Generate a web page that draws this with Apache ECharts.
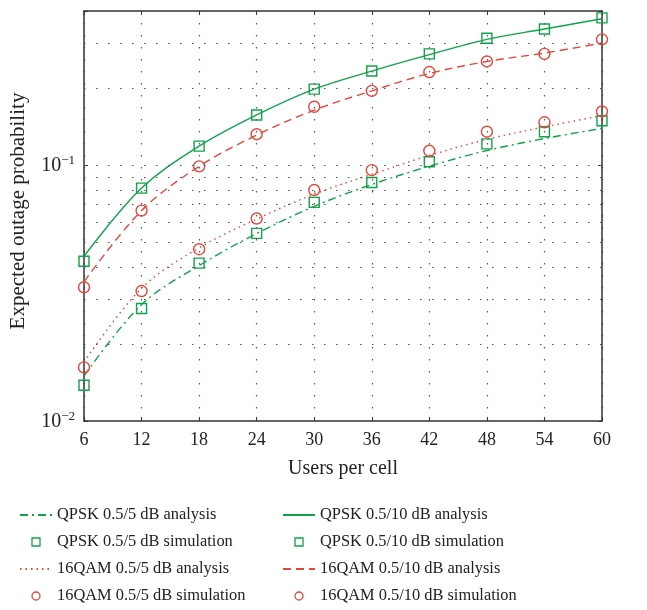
<!DOCTYPE html>
<html>
<head>
<meta charset="utf-8">
<script src="https://cdn.jsdelivr.net/npm/echarts@6/dist/echarts.min.js"></script>
<style>html,body{margin:0;padding:0;background:#fff}#c{width:647px;height:610px}</style>
</head>
<body>
<div id="c"></div>
<script>
var users = [6, 12, 18, 24, 30, 36, 42, 48, 54, 60];
var qpsk5Analysis = [0.0150, 0.0285, 0.0405, 0.0540, 0.0690, 0.0840, 0.0990, 0.1140, 0.1270, 0.1390];
var qpsk5Sim = [0.0138, 0.0275, 0.0414, 0.0541, 0.0715, 0.0855, 0.1030, 0.1210, 0.1350, 0.1490];
var qpsk10Analysis = [0.0440, 0.0813, 0.1186, 0.1570, 0.1980, 0.2330, 0.2700, 0.3100, 0.3400, 0.3730];
var qpsk10Sim = [0.0421, 0.0813, 0.1186, 0.1570, 0.1980, 0.2330, 0.2720, 0.3130, 0.3400, 0.3760];
var qam5Analysis = [0.0170, 0.0330, 0.0475, 0.0615, 0.0770, 0.0920, 0.1090, 0.1260, 0.1410, 0.1560];
var qam5Sim = [0.0162, 0.0322, 0.0469, 0.0618, 0.0799, 0.0956, 0.1137, 0.1350, 0.1470, 0.1620];
var qam10Analysis = [0.0350, 0.0664, 0.0988, 0.1310, 0.1640, 0.1950, 0.2280, 0.2540, 0.2740, 0.3000];
var qam10Sim = [0.0333, 0.0664, 0.0988, 0.1320, 0.1690, 0.1950, 0.2310, 0.2540, 0.2720, 0.3100];
var yGridValues = [0.02, 0.03, 0.04, 0.05, 0.06, 0.07, 0.08, 0.09, 0.1, 0.2, 0.3];
var names = ['QPSK 0.5/5 dB analysis', 'QPSK 0.5/5 dB simulation', '16QAM 0.5/5 dB analysis', '16QAM 0.5/5 dB simulation',
             'QPSK 0.5/10 dB analysis', 'QPSK 0.5/10 dB simulation', '16QAM 0.5/10 dB analysis', '16QAM 0.5/10 dB simulation'];

var GREEN = '#12a24b', RED = '#e5453a';
var FONT = 'Liberation Serif';
function pairs(arr) { return users.map(function (u, i) { return [u, arr[i]]; }); }

function lineSeries(name, arr, color, type) {
  return { name: name, type: 'line', data: pairs(arr), smooth: 0.35, symbol: 'none', showSymbol: false,
    lineStyle: { color: color, width: 1.4, type: type }, itemStyle: { color: color }, z: 3 };
}
function simSeries(name, arr, color, sym) {
  return { name: name, type: 'scatter', data: pairs(arr), symbol: sym, symbolSize: sym === 'rect' ? 10 : 11,
    itemStyle: { color: 'rgba(0,0,0,0)', borderColor: color, borderWidth: 1.4, opacity: 1 }, z: 4 };
}
function legendItem(name, color, kind) {
  if (kind === 'rect') {
    return { name: name, icon: 'path://M0,0L10,0L10,10L0,10Z',
      itemStyle: { color: 'rgba(0,0,0,0)', borderColor: color, borderWidth: 1.3 } };
  }
  if (kind === 'circle') {
    return { name: name, icon: 'circle', itemStyle: { color: 'rgba(0,0,0,0)', borderColor: color, borderWidth: 1.3 } };
  }
  return { name: name, itemStyle: { color: 'rgba(0,0,0,0)', borderColor: 'rgba(0,0,0,0)', borderWidth: 0, opacity: 0 } };
}

var gridSeries = {
  type: 'line', data: [], silent: true,
  markLine: { symbol: 'none', silent: true, label: { show: false },
    lineStyle: { color: '#555', width: 1.2, type: [1.5, 10.5] },
    data: yGridValues.map(function (v) { return { yAxis: v }; }) }
};

var legendCommon = { orient: 'vertical', itemWidth: 32, itemHeight: 8, itemGap: 9, padding: 0,
  textStyle: { fontFamily: FONT, fontSize: 16.4, color: '#222', lineHeight: 18 }, selectedMode: false };

var option = {
  animation: false,
  backgroundColor: '#fff',
  grid: { left: 82, right: 45, top: 11, bottom: 189 },
  xAxis: [{
    type: 'value', min: 6, max: 60, interval: 6, name: 'Users per cell', nameLocation: 'middle', nameGap: 38,
    nameTextStyle: { fontFamily: FONT, fontSize: 20, color: '#222' },
    axisLine: { lineStyle: { color: '#333', width: 1.5 } },
    axisTick: { inside: true, length: 4, lineStyle: { color: '#333' } },
    axisLabel: { fontFamily: FONT, fontSize: 18, color: '#222', margin: 10 },
    splitLine: { show: true, lineStyle: { color: '#555', width: 1.2, type: [1.5, 10.5] } }
  }, {
    type: 'value', position: 'top', min: 6, max: 60, interval: 6,
    axisLine: { show: true, lineStyle: { color: '#333', width: 1.5 } },
    axisTick: { show: true, inside: true, length: 4, lineStyle: { color: '#333' } },
    axisLabel: { show: false }, splitLine: { show: false }
  }],
  yAxis: [{
    type: 'log', logBase: 10, min: 0.01, max: 0.4, name: 'Expected outage probability', nameLocation: 'middle', nameGap: 55,
    nameTextStyle: { fontFamily: FONT, fontSize: 21, color: '#222', padding: [0, 0, 0, 10] },
    axisLine: { show: true, lineStyle: { color: '#333', width: 1.5 } },
    axisTick: { show: true, inside: true, length: 4, lineStyle: { color: '#333' } },
    splitLine: { show: false },
    axisLabel: {
      fontFamily: FONT, color: '#222', margin: 9,
      formatter: function (v) {
        var e = Math.round(Math.log10(v));
        if (Math.abs(Math.log10(v) - e) > 1e-6) return '';
        return '{b|10}{s|\u2212' + Math.abs(e) + '}';
      },
      rich: {
        b: { fontFamily: FONT, fontSize: 20, color: '#222', verticalAlign: 'bottom' },
        s: { fontFamily: FONT, fontSize: 13, color: '#222', verticalAlign: 'bottom', padding: [0, 0, 9, 0] }
      }
    }
  }, {
    type: 'log', logBase: 10, min: 0.01, max: 0.4, position: 'right',
    axisLine: { show: true, lineStyle: { color: '#333', width: 1.5 } },
    axisTick: { show: true, inside: true, length: 4, lineStyle: { color: '#333' } },
    axisLabel: { show: false }, splitLine: { show: false }
  }],
  legend: [
    Object.assign({ left: 19, top: 506, data: [
      legendItem(names[0], GREEN, 'line'), legendItem(names[1], GREEN, 'rect'),
      legendItem(names[2], RED, 'line'), legendItem(names[3], RED, 'circle')] }, legendCommon),
    Object.assign({ left: 282, top: 506, data: [
      legendItem(names[4], GREEN, 'line'), legendItem(names[5], GREEN, 'rect'),
      legendItem(names[6], RED, 'line'), legendItem(names[7], RED, 'circle')] }, legendCommon)
  ],
  series: [
    gridSeries,
    lineSeries(names[0], qpsk5Analysis, GREEN, [8, 4, 2, 4]),
    simSeries(names[1], qpsk5Sim, GREEN, 'rect'),
    lineSeries(names[2], qam5Analysis, RED, [1.5, 4]),
    simSeries(names[3], qam5Sim, RED, 'circle'),
    lineSeries(names[4], qpsk10Analysis, GREEN, 'solid'),
    simSeries(names[5], qpsk10Sim, GREEN, 'rect'),
    lineSeries(names[6], qam10Analysis, RED, [8, 5]),
    simSeries(names[7], qam10Sim, RED, 'circle')
  ]
};
var chart = echarts.init(document.getElementById('c'), null, { renderer: 'canvas' });
chart.setOption(option);
</script>
</body>
</html>
